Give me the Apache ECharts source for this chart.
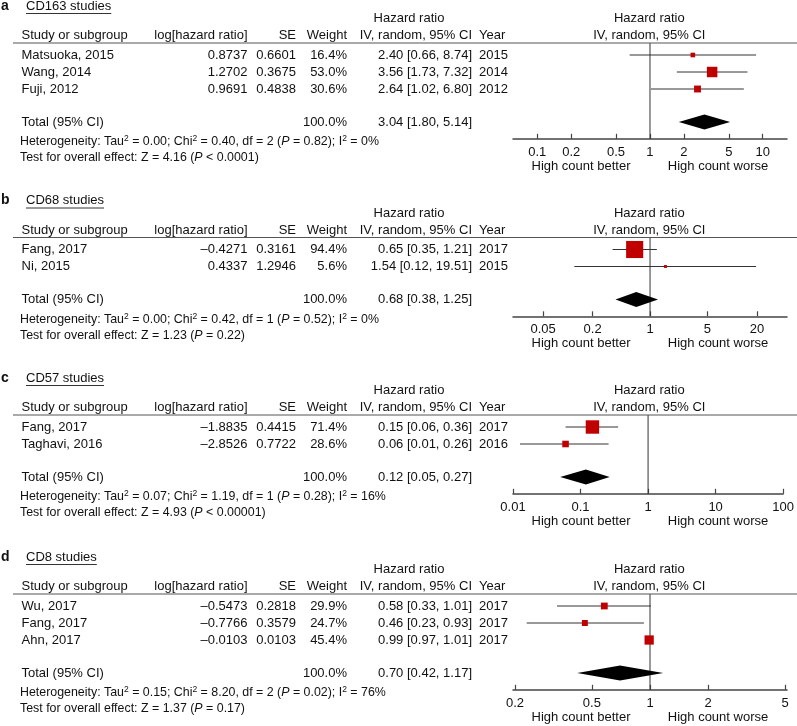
<!DOCTYPE html>
<html><head><meta charset="utf-8">
<script src="https://cdn.jsdelivr.net/npm/echarts@6/dist/echarts.min.js"></script>
<style>html,body{margin:0;padding:0;background:#fff}#c{width:797px;height:726px}</style>
</head><body><div id="c"></div>
<script>
// ---------------- DATA ----------------
const panelLetters = ['a', 'b', 'c', 'd'];
const panelTitles = ['CD163 studies', 'CD68 studies', 'CD57 studies', 'CD8 studies'];

const cd163Studies = ['Matsuoka, 2015', 'Wang, 2014', 'Fuji, 2012'];
const cd163LogHR = [0.8737, 1.2702, 0.9691];
const cd163SE = [0.6601, 0.3675, 0.4838];
const cd163Weight = [16.4, 53.0, 30.6];
const cd163HR = [2.40, 3.56, 2.64];
const cd163Lo = [0.66, 1.73, 1.02];
const cd163Hi = [8.74, 7.32, 6.80];
const cd163Year = [2015, 2014, 2012];
const cd163Total = [3.04, 1.80, 5.14];
const cd163Het = ['0.00', '0.40', '2', '= 0.82', '0%'];
const cd163Test = ['4.16', '< 0.0001'];
const cd163Ticks = [0.1, 0.2, 0.5, 1, 2, 5, 10];
const cd163Range = [0.0609, 16.43];

const cd68Studies = ['Fang, 2017', 'Ni, 2015'];
const cd68LogHR = [-0.4271, 0.4337];
const cd68SE = [0.3161, 1.2946];
const cd68Weight = [94.4, 5.6];
const cd68HR = [0.65, 1.54];
const cd68Lo = [0.35, 0.12];
const cd68Hi = [1.21, 19.51];
const cd68Year = [2017, 2015];
const cd68Total = [0.68, 0.38, 1.25];
const cd68Het = ['0.00', '0.42', '1', '= 0.52', '0%'];
const cd68Test = ['1.23', '= 0.22'];
const cd68Ticks = [0.05, 0.2, 1, 5, 20];
const cd68Range = [0.0215, 46.4];

const cd57Studies = ['Fang, 2017', 'Taghavi, 2016'];
const cd57LogHR = [-1.8835, -2.8526];
const cd57SE = [0.4415, 0.7722];
const cd57Weight = [71.4, 28.6];
const cd57HR = [0.15, 0.06];
const cd57Lo = [0.06, 0.0127];
const cd57Hi = [0.36, 0.26];
const cd57Year = [2017, 2016];
const cd57Total = [0.12, 0.05, 0.27];
const cd57Het = ['0.07', '1.19', '1', '= 0.28', '16%'];
const cd57Test = ['4.93', '< 0.00001'];
const cd57Ticks = [0.01, 0.1, 1, 10, 100];
const cd57Range = [0.01, 100];

const cd8Studies = ['Wu, 2017', 'Fang, 2017', 'Ahn, 2017'];
const cd8LogHR = [-0.5473, -0.7766, -0.0103];
const cd8SE = [0.2818, 0.3579, 0.0103];
const cd8Weight = [29.9, 24.7, 45.4];
const cd8HR = [0.58, 0.46, 0.99];
const cd8Lo = [0.33, 0.23, 0.97];
const cd8Hi = [1.01, 0.93, 1.01];
const cd8Year = [2017, 2017, 2017];
const cd8Total = [0.70, 0.42, 1.17];
const cd8Het = ['0.15', '8.20', '2', '= 0.02', '76%'];
const cd8Test = ['1.37', '= 0.17'];
const cd8Ticks = [0.2, 0.5, 1, 2, 5];
const cd8Range = [0.1953, 5.12];

const panels = [
  {studies: cd163Studies, logHR: cd163LogHR, se: cd163SE, weight: cd163Weight, hr: cd163HR, lo: cd163Lo, hi: cd163Hi, year: cd163Year, total: cd163Total, het: cd163Het, test: cd163Test, ticks: cd163Ticks, range: cd163Range},
  {studies: cd68Studies, logHR: cd68LogHR, se: cd68SE, weight: cd68Weight, hr: cd68HR, lo: cd68Lo, hi: cd68Hi, year: cd68Year, total: cd68Total, het: cd68Het, test: cd68Test, ticks: cd68Ticks, range: cd68Range},
  {studies: cd57Studies, logHR: cd57LogHR, se: cd57SE, weight: cd57Weight, hr: cd57HR, lo: cd57Lo, hi: cd57Hi, year: cd57Year, total: cd57Total, het: cd57Het, test: cd57Test, ticks: cd57Ticks, range: cd57Range},
  {studies: cd8Studies, logHR: cd8LogHR, se: cd8SE, weight: cd8Weight, hr: cd8HR, lo: cd8Lo, hi: cd8Hi, year: cd8Year, total: cd8Total, het: cd8Het, test: cd8Test, ticks: cd8Ticks, range: cd8Range}
];

// ---------------- LAYOUT ----------------
const panelTops = [0, 194.5, 372, 551];
const ROW = 17;
const FONT = '"Liberation Sans", Arial, Helvetica, sans-serif';
const TXT = '#111';
const RED = '#C00000';
const LINE = '#333';
const COL = {name: 21.5, log: 247.5, se: 296, w: 347, hr: 472, year: 479, hrHead: 409, plotL: 513, plotW: 274, one: 649.3};

const measureCtx = document.createElement('canvas').getContext('2d');
function textWidth(s, size) { measureCtx.font = size + 'px ' + FONT; return measureCtx.measureText(s).width; }

function fmt(v, d) { return (v < 0 ? '\u2013' : '') + Math.abs(v).toFixed(d); }
function hrText(h, l, u) { return h.toFixed(2) + ' [' + l.toFixed(2) + ', ' + u.toFixed(2) + ']'; }

const NOTE = 12.4;
const richStyles = {
  sup: {fontSize: 8.5, fontFamily: FONT, fill: TXT, verticalAlign: 'top', lineHeight: 9},
  it: {fontSize: NOTE, fontFamily: FONT, fill: TXT, fontStyle: 'italic', lineHeight: 15}
};
function txt(x, y, text, align, extra) {
  return {type: 'text', x: x, y: y, silent: true, z: 10,
    style: Object.assign({text: text, fill: TXT, fontSize: 13, fontFamily: FONT, align: align || 'left', verticalAlign: 'middle'}, extra || {})};
}
function hline(x1, x2, y, color, w) {
  return {type: 'line', silent: true, z: 10, shape: {x1: x1, y1: y, x2: x2, y2: y}, style: {stroke: color, lineWidth: w || 1}};
}

const grids = [], xAxes = [], yAxes = [], series = [], graphics = [];

panels.forEach(function (p, k) {
  const n = p.studies.length;
  const T = panelTops[k];
  const yMin = -12 / ROW;
  const totalV = n - 1 + 33 / ROW;
  const yMax = n - 1 + 49.8 / ROW;
  const gridTop = T + 43;
  const gridH = (yMax - yMin) * ROW;
  const py = function (v) { return gridTop + (v - yMin) * ROW; };
  const axisY = gridTop + gridH;

  grids.push({left: COL.plotL, width: COL.plotW, top: gridTop, height: gridH, containLabel: false});
  xAxes.push({
    type: 'log', logBase: 10, gridIndex: k, min: p.range[0], max: p.range[1], position: 'bottom',
    axisLine: {show: true, onZero: false, lineStyle: {color: '#444', width: 1.5}},
    axisTick: {show: true, inside: true, length: 5, lineStyle: {color: '#444', width: 1.2}, customValues: p.ticks},
    axisLabel: {show: true, customValues: p.ticks, margin: 7, fontSize: 13, fontFamily: FONT, color: TXT,
      formatter: function (v) { return String(parseFloat(Number(v).toPrecision(6))); }},
    splitLine: {show: false}, minorTick: {show: false}
  });
  yAxes.push({type: 'value', gridIndex: k, min: yMin, max: yMax, inverse: true, show: false});

  // vertical line of no effect
  series.push({
    type: 'custom', xAxisIndex: k, yAxisIndex: k, z: 1, silent: true,
    data: [[1, yMin, yMax]],
    encode: {x: 0, y: [1, 2]},
    renderItem: function (params, api) {
      const a = api.coord([api.value(0), api.value(1)]);
      const b = api.coord([api.value(0), api.value(2)]);
      return {type: 'line', shape: {x1: a[0], y1: a[1], x2: b[0], y2: b[1]}, style: {stroke: LINE, lineWidth: 1}};
    }
  });
  // studies: whisker + square
  series.push({
    type: 'custom', xAxisIndex: k, yAxisIndex: k, z: 3, silent: true,
    data: p.hr.map(function (h, i) { return [h, i, p.lo[i], p.hi[i], p.weight[i]]; }),
    encode: {x: [0, 2, 3], y: 1},
    renderItem: function (params, api) {
      const c = api.coord([api.value(0), api.value(1)]);
      const l = api.coord([api.value(2), api.value(1)]);
      const h = api.coord([api.value(3), api.value(1)]);
      const s = 2 + 0.16 * api.value(4);
      return {type: 'group', children: [
        {type: 'line', shape: {x1: l[0], y1: l[1], x2: h[0], y2: h[1]}, style: {stroke: LINE, lineWidth: 1}},
        {type: 'rect', shape: {x: c[0] - s / 2, y: c[1] - s / 2, width: s, height: s}, style: {fill: RED}}
      ]};
    }
  });
  // pooled diamond
  series.push({
    type: 'custom', xAxisIndex: k, yAxisIndex: k, z: 3, silent: true,
    data: [[p.total[0], totalV, p.total[1], p.total[2]]],
    encode: {x: [0, 2, 3], y: 1},
    renderItem: function (params, api) {
      const c = api.coord([api.value(0), api.value(1)]);
      const l = api.coord([api.value(2), api.value(1)]);
      const h = api.coord([api.value(3), api.value(1)]);
      const d = 7.5;
      return {type: 'polygon', shape: {points: [[l[0], c[1]], [c[0], c[1] - d], [h[0], c[1]], [c[0], c[1] + d]]}, style: {fill: '#000'}};
    }
  });

  // ---- text table ----
  graphics.push(txt(1, T + 6, panelLetters[k], 'left', {fontWeight: 'bold', fontSize: 14}));
  graphics.push(txt(26, T + 6, panelTitles[k]));
  graphics.push(hline(26, 26 + textWidth(panelTitles[k], 13), T + 13.5, '#333', 1));
  graphics.push(txt(COL.hrHead, T + 18.5, 'Hazard ratio', 'center'));
  graphics.push(txt(COL.one, T + 18.5, 'Hazard ratio', 'center'));
  graphics.push(txt(COL.name, T + 35.5, 'Study or subgroup'));
  graphics.push(txt(COL.log, T + 35.5, 'log[hazard ratio]', 'right'));
  graphics.push(txt(COL.se, T + 35.5, 'SE', 'right'));
  graphics.push(txt(COL.w, T + 35.5, 'Weight', 'right'));
  graphics.push(txt(COL.hr, T + 35.5, 'IV, random, 95% CI', 'right'));
  graphics.push(txt(COL.year, T + 35.5, 'Year'));
  graphics.push(txt(COL.one, T + 35.5, 'IV, random, 95% CI', 'center'));
  graphics.push(hline(13, 797, T + 43, '#555', 1));

  p.studies.forEach(function (s, i) {
    const y = py(i);
    graphics.push(txt(COL.name, y, s));
    graphics.push(txt(COL.log, y, fmt(p.logHR[i], 4), 'right'));
    graphics.push(txt(COL.se, y, fmt(p.se[i], 4), 'right'));
    graphics.push(txt(COL.w, y, p.weight[i].toFixed(1) + '%', 'right'));
    graphics.push(txt(COL.hr, y, hrText(p.hr[i], p.lo[i], p.hi[i]), 'right'));
    graphics.push(txt(COL.year, y, String(p.year[i])));
  });
  const ty = py(totalV);
  graphics.push(txt(COL.name, ty, 'Total (95% CI)'));
  graphics.push(txt(COL.w, ty, '100.0%', 'right'));
  graphics.push(txt(COL.hr, ty, hrText(p.total[0], p.total[1], p.total[2]), 'right'));
  graphics.push(txt(20, ty + 20,
    'Heterogeneity: Tau{sup|2} = ' + p.het[0] + '; Chi{sup|2} = ' + p.het[1] + ', df = ' + p.het[2] +
    ' ({it|P} ' + p.het[3] + '); I{sup|2} = ' + p.het[4], 'left', {rich: richStyles, lineHeight: 15, fontSize: NOTE}));
  graphics.push(txt(20, ty + 36,
    'Test for overall effect: Z = ' + p.test[0] + ' ({it|P} ' + p.test[1] + ')', 'left', {rich: richStyles, lineHeight: 15, fontSize: NOTE}));
  graphics.push(txt(581, axisY + 27.5, 'High count better', 'center'));
  graphics.push(txt(718, axisY + 27.5, 'High count worse', 'center'));
});

const chart = echarts.init(document.getElementById('c'), null, {renderer: 'canvas'});
chart.setOption({
  animation: false,
  backgroundColor: '#fff',
  grid: grids, xAxis: xAxes, yAxis: yAxes, series: series,
  graphic: graphics
});
</script>
</body></html>
